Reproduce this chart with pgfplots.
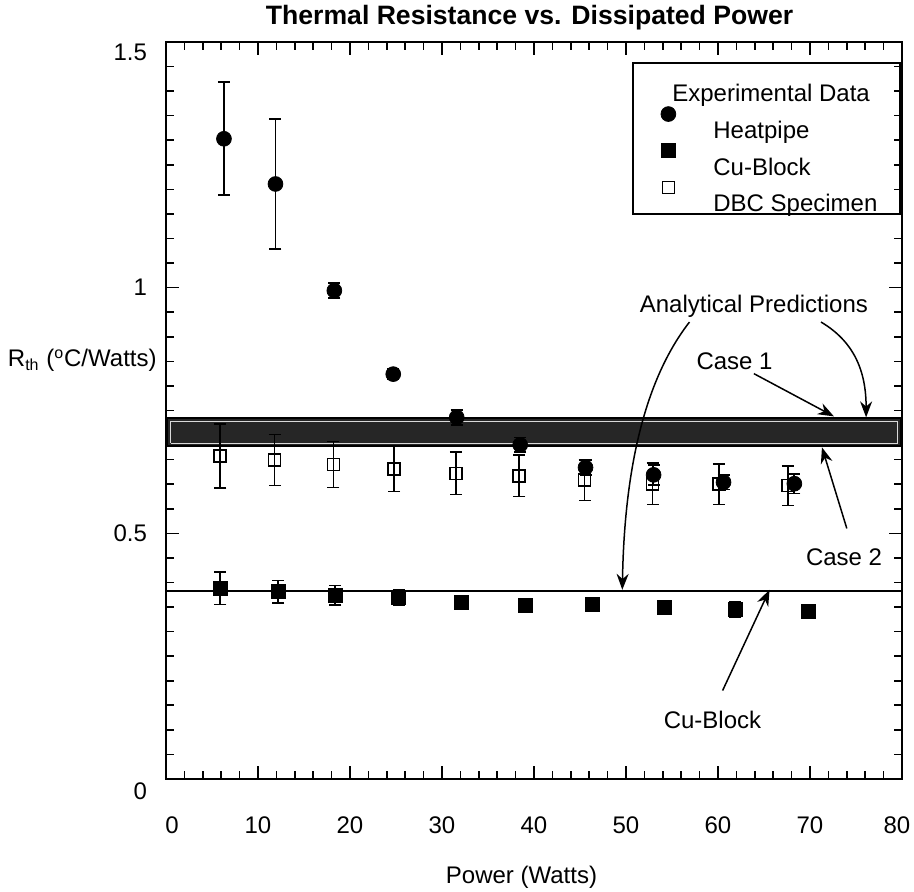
\documentclass[border=0pt]{standalone}
\usepackage{fontspec}
\setmainfont{Liberation Sans}
\usepackage{pgfplots}
\pgfplotsset{compat=1.18}
\usetikzlibrary{arrows.meta}
\newcommand\f{\fontsize{12}{14.4}\selectfont}
\begin{document}
\begin{tikzpicture}[font=\f,
  lab/.style={text height=8.6pt,text depth=0pt,inner sep=0pt},
  arr/.style={line width=0.75pt,-{Stealth[length=8pt,width=6pt]}}]
\begin{axis}[
  name=ax,
  scale only axis, width=368pt, height=368.5pt,
  xmin=0, xmax=80, ymin=0, ymax=1.5,
  xtick={0,10,...,80}, minor x tick num=4,
  xticklabels={\hspace*{6pt}0,10,20,30,40,50,60,70,80\hspace*{5pt}},
  ytick={0,0.5,1,1.5}, minor y tick num=9,
  yticklabels={\raisebox{-6pt}[\height][0pt]{0},0.5,1,\raisebox{-5pt}[\height][0pt]{1.5}},
  xticklabel style={yshift=-15.2pt},
  yticklabel style={xshift=-6pt},
  tick align=inside,
  major tick length=6.5pt, minor tick length=4pt,
  axis line style={line width=1pt},
  every tick/.style={black, line width=0.8pt},
  clip=false,
  title={Thermal Resistance vs. Dissipated Power},
  title style={at={(axis description cs:0.494,1)}, anchor=center, yshift=7.5pt,
    font=\bfseries\fontsize{13.3}{16}\selectfont, text height=9.5pt, text depth=0pt, inner sep=0pt},
  xlabel={Power (Watts)},
  xlabel style={at={(axis description cs:0.483,0)}, anchor=center, yshift=-48pt,
    text height=8.6pt, text depth=0pt, inner sep=0pt},
  legend style={at={(0.6345,0.9715)}, anchor=north west, yshift=-10.3pt,
    draw=none, fill=none, inner sep=0pt, column sep=0pt, row sep=6.33pt,
    /tikz/every even column/.style={column sep=0pt},
    nodes={inner sep=0pt, text height=9pt, text depth=3pt}},
  legend cell align=left,
  legend image code/.code={\path[draw=none,fill=none] (0pt,-6pt) rectangle (40pt,6pt);
    \draw[#1,overlay] plot coordinates {(17.5pt,9.3pt)};},
]
% analytical predictions: band (Case 1 / Case 2) and Cu-Block line
\addplot[forget plot, draw=black, line width=0.9pt, fill=black!85]
  coordinates {(0.15,0.677) (79.85,0.677) (79.85,0.734) (0.15,0.734) (0.15,0.677)};
\addplot[forget plot, draw=white!85!black, line width=0.5pt]
  coordinates {(0.5,0.683) (79.5,0.683) (79.5,0.728) (0.5,0.728) (0.5,0.683)};
\addplot[forget plot, black, line width=0.9pt] coordinates {(0,0.383) (80,0.383)};

\addlegendimage{empty legend}
\addlegendentry{\hspace*{-20.5pt}Experimental Data}

\addplot[only marks, mark=*, mark size=3.7pt, black,
  error bars/.cd, y dir=both, y explicit,
  error bar style={line width=0.9pt}, error mark options={rotate=90, mark size=3pt, line width=0.9pt}]
coordinates {
(6.3,1.303) +- (0,0.115)
(11.9,1.211) +- (0,0.132)
(18.3,0.994) +- (0,0.015)
(24.7,0.824) +- (0,0.01)
(31.6,0.736) +- (0,0.015)
(38.5,0.680) +- (0,0.015)
(45.6,0.634) +- (0,0.015)
(53.0,0.619) +- (0,0.02)
(60.6,0.604) +- (0,0.015)
(68.3,0.601) +- (0,0.02)
};
\addlegendentry{Heatpipe}

\addplot[only marks, mark=square*, mark size=3.5pt, black,
  error bars/.cd, y dir=both, y explicit,
  error bar style={line width=0.9pt}, error mark options={rotate=90, mark size=3pt, line width=0.9pt}]
coordinates {
(5.9,0.388) +- (0,0.033)
(12.2,0.381) +- (0,0.023)
(18.4,0.374) +- (0,0.02)
(25.3,0.369) +- (0,0.015)
(32.1,0.360) +- (0,0.012)
(39.1,0.353) +- (0,0.012)
(46.4,0.355) +- (0,0.012)
(54.2,0.349) +- (0,0.012)
(61.9,0.345) +- (0,0.015)
(69.8,0.342) +- (0,0.012)
};
\addlegendentry{Cu-Block}

\addplot[only marks, mark=square, mark size=3pt, black, mark options={line width=0.8pt},
  error bars/.cd, y dir=both, y explicit,
  error bar style={line width=0.8pt}, error mark options={rotate=90, mark size=3pt, line width=0.8pt}]
coordinates {
(5.9,0.657) +- (0,0.065)
(11.8,0.649) +- (0,0.052)
(18.2,0.640) +- (0,0.047)
(24.8,0.631) +- (0,0.046)
(31.5,0.622) +- (0,0.043)
(38.4,0.617) +- (0,0.042)
(45.5,0.608) +- (0,0.041)
(52.9,0.601) +- (0,0.042)
(60.1,0.600) +- (0,0.041)
(67.6,0.597) +- (0,0.04)
};
\addlegendentry{DBC Specimen}

% legend frame
\draw[line width=0.9pt] (rel axis cs:0.6345,0.7666) rectangle (rel axis cs:0.9973,0.9715);

% annotations
\draw[arr] (axis cs:56.9,0.93) .. controls (axis cs:51.5,0.80) and (axis cs:49.8,0.60) .. (axis cs:49.6,0.385);
\draw[arr] (axis cs:71.2,0.93) .. controls (axis cs:74.8,0.89) and (axis cs:76.1,0.83) .. (axis cs:76.1,0.736);
\draw[arr] (axis cs:63.9,0.825) -- (axis cs:72.6,0.738);
\draw[arr] (axis cs:74.0,0.51) -- (axis cs:71.3,0.675);
\draw[arr] (axis cs:60.5,0.18) -- (axis cs:65.6,0.385);
\node[lab] at (axis cs:63.9,0.966) {Analytical Predictions};
\node[lab] at (axis cs:61.8,0.85) {Case 1};
\node[lab] at (axis cs:73.7,0.453) {Case 2};
\node[lab] at (axis cs:59.4,0.12) {Cu-Block};
\node[lab, anchor=east, xshift=-4.5pt] at (rel axis cs:0,0.571)
  {R\textsubscript{th} (\textsuperscript{o}C/Watts)};
\end{axis}
\pgfresetboundingbox
\path ([shift={(-83pt,-56.5pt)}]ax.south west) rectangle ([shift={(6pt,21pt)}]ax.north east);
\end{tikzpicture}
\end{document}
